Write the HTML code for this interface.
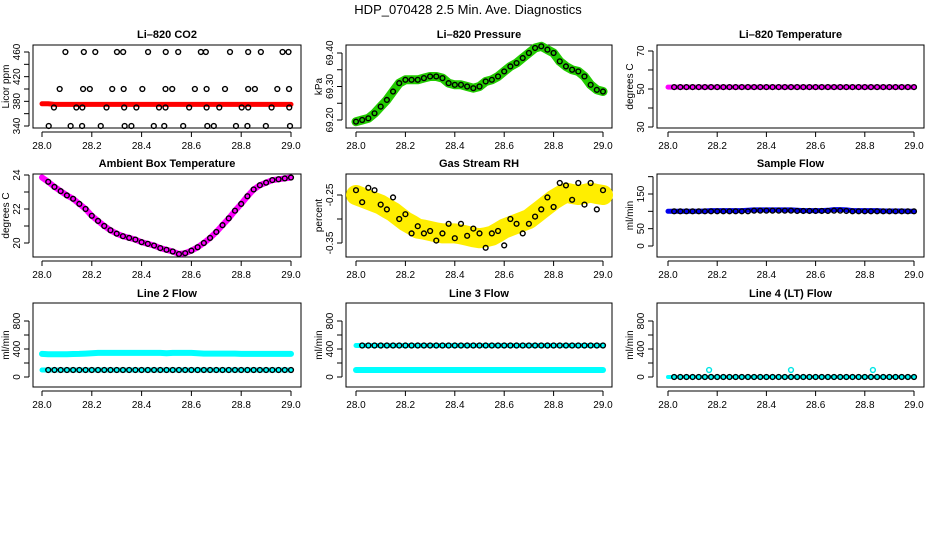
<!DOCTYPE html>
<html><head><meta charset="utf-8">
<style>
html,body{margin:0;padding:0;background:#fff;}
svg{display:block;font-family:"Liberation Sans",sans-serif;}
</style></head>
<body>
<svg id="chart" width="936" height="540" viewBox="0 0 936 540" xmlns="http://www.w3.org/2000/svg">
<rect width="936" height="540" fill="#fff"/>
<text x="468" y="14" font-size="13" text-anchor="middle">HDP_070428  2.5 Min. Ave. Diagnostics</text>
</svg>
<script>
const T = [28.00,28.025,28.05,28.075,28.10,28.125,28.15,28.175,28.20,28.225,28.25,28.275,28.30,28.325,28.35,28.375,28.40,28.425,28.45,28.475,28.50,28.525,28.55,28.575,28.60,28.625,28.65,28.675,28.70,28.725,28.75,28.775,28.80,28.825,28.85,28.875,28.90,28.925,28.95,28.975,29.00];
const xTicks = [28.0,28.2,28.4,28.6,28.8,29.0];
const xTickLabels = ["28.0","28.2","28.4","28.6","28.8","29.0"];

const co2Band = [376,376,375,375,375,375,375,375,375,375,375,375,375,375,375,375,375,375,375,375,375,375,375,375,375,375,375,375,375,375,375,375,375,375,375,375,375,375,375,375,375];
const co2X460 = [28.094,28.168,28.214,28.301,28.326,28.426,28.497,28.547,28.638,28.658,28.755,28.828,28.879,28.966,28.990];
const co2X400 = [28.071,28.165,28.192,28.282,28.328,28.403,28.496,28.523,28.614,28.661,28.735,28.828,28.855,28.945,28.992];
const co2X370 = [28.048,28.138,28.162,28.259,28.330,28.379,28.470,28.496,28.591,28.661,28.712,28.802,28.828,28.922,28.993];
const co2X340 = [28.027,28.115,28.161,28.236,28.332,28.359,28.449,28.491,28.567,28.664,28.690,28.779,28.825,28.899,28.996];

const pressure = [69.195,69.20,69.205,69.22,69.24,69.26,69.285,69.31,69.32,69.32,69.32,69.325,69.33,69.33,69.325,69.31,69.305,69.305,69.30,69.295,69.30,69.315,69.32,69.33,69.345,69.36,69.37,69.385,69.40,69.415,69.42,69.41,69.40,69.375,69.36,69.35,69.345,69.33,69.305,69.29,69.285];
const liTemp = [51,51,51,51,51,51,51,51,51,51,51,51,51,51,51,51,51,51,51,51,51,51,51,51,51,51,51,51,51,51,51,51,51,51,51,51,51,51,51,51,51];
const ambient = [23.85,23.6,23.3,23.05,22.8,22.6,22.3,22.0,21.6,21.3,21.0,20.75,20.55,20.4,20.3,20.2,20.05,19.95,19.85,19.7,19.6,19.5,19.35,19.4,19.55,19.75,20.0,20.3,20.65,21.05,21.45,21.9,22.3,22.75,23.15,23.4,23.55,23.7,23.75,23.8,23.85];
const rhBand = [-0.25,-0.255,-0.26,-0.265,-0.27,-0.278,-0.285,-0.295,-0.305,-0.312,-0.32,-0.322,-0.325,-0.328,-0.33,-0.33,-0.33,-0.332,-0.335,-0.338,-0.34,-0.338,-0.335,-0.328,-0.32,-0.315,-0.31,-0.305,-0.30,-0.29,-0.28,-0.27,-0.26,-0.252,-0.245,-0.248,-0.25,-0.248,-0.245,-0.248,-0.25];
const rhBlack = [-0.24,-0.265,-0.235,-0.24,-0.27,-0.28,-0.255,-0.30,-0.29,-0.33,-0.315,-0.33,-0.325,-0.345,-0.33,-0.31,-0.34,-0.31,-0.335,-0.32,-0.33,-0.36,-0.33,-0.325,-0.355,-0.30,-0.31,-0.33,-0.31,-0.295,-0.28,-0.255,-0.275,-0.225,-0.23,-0.26,-0.225,-0.27,-0.225,-0.28,-0.24];
const sampleBand = [100,100,100,100,100,100,101,102,102,102,102,102,102,103,104,104,104,104,104,104,104,103,102,102,102,102,103,105,105,104,102,102,102,102,102,101,101,101,101,100,100];
const sampleBlack = [100,100,100,100,100,100,100,100,100,100,100,100,100,100,102,102,102,102,102,102,102,101,101,101,101,101,101,102,102,101,100,100,100,100,100,100,100,100,100,100,100];
const line2High = [330,325,325,325,325,328,330,335,340,345,345,345,345,345,345,345,345,345,345,345,340,345,345,345,345,340,335,335,335,335,335,335,330,330,330,330,330,330,330,330,330];
const line2Low = [100,100,100,100,100,100,100,100,100,100,100,100,100,100,100,100,100,100,100,100,100,100,100,100,100,100,100,100,100,100,100,100,100,100,100,100,100,100,100,100,100];
const line3High = [450,450,450,450,450,450,450,450,450,450,450,450,450,450,450,450,450,450,450,450,450,450,450,450,450,450,450,450,450,450,450,450,450,450,450,450,450,450,450,450,450];
const line3Low = [100,100,100,100,100,100,100,100,100,100,100,100,100,100,100,100,100,100,100,100,100,100,100,100,100,100,100,100,100,100,100,100,100,100,100,100,100,100,100,100,100];
const line4 = [0,0,0,0,0,0,0,0,0,0,0,0,0,0,0,0,0,0,0,0,0,0,0,0,0,0,0,0,0,0,0,0,0,0,0,0,0,0,0,0,0];
const line4SpikeX = [28.167,28.5,28.833];
const line4SpikeY = [100,100,100];

const NS = "http://www.w3.org/2000/svg";
const svg = document.getElementById('chart');
const COLS = [{l:33,r:301,x0:42,x1:291},{l:346,r:612,x0:356,x1:603},{l:657,r:924,x0:668,x1:914}];
const ROWS = [{t:45,b:128,title:38},{t:174,b:257,title:167},{t:303,b:387,title:297}];

function mk(tag, attrs, parent){const e=document.createElementNS(NS,tag);for(const k in attrs)e.setAttribute(k,attrs[k]);(parent||svg).appendChild(e);return e;}

function panel(name,title,ci,ri,yA,yB,yTicks,yLabels,yTitle){
  const c=COLS[ci], r=ROWS[ri];
  const g=mk('g',{});
  
  
  const xs=v=>c.x0+(v-28)*(c.x1-c.x0);
  const ys=v=>yA[1]+(v-yA[0])*(yB[1]-yA[1])/(yB[0]-yA[0]);
  const tt=mk('text',{x:(c.l+c.r)/2,y:r.title,'font-size':11,'font-weight':'bold','text-anchor':'middle'},g);
  tt.textContent=title;
  
  
  const box=mk('rect',{x:c.l,y:r.t,width:c.r-c.l,height:r.b-r.t,fill:'none',stroke:'#000','stroke-width':1},g);
  
  
  const xa=mk('g',{},g);
  
  
  mk('line',{x1:xs(xTicks[0]),x2:xs(xTicks[xTicks.length-1]),y1:r.b+4,y2:r.b+4,stroke:'#000'},xa);
  xTicks.forEach((v,i)=>{
    mk('line',{x1:xs(v),x2:xs(v),y1:r.b+4,y2:r.b+9,stroke:'#000'},xa);
    const t=mk('text',{x:xs(v),y:r.b+21,'font-size':10,'text-anchor':'middle'},xa);
    t.textContent=xTickLabels[i];
  });
  const ya=mk('g',{},g);
  
  
  const ax=c.l-4;
  mk('line',{x1:ax,x2:ax,y1:ys(yTicks[0]),y2:ys(yTicks[yTicks.length-1]),stroke:'#000'},ya);
  yTicks.forEach((v,i)=>{
    mk('line',{x1:ax-5,x2:ax,y1:ys(v),y2:ys(v),stroke:'#000'},ya);
    if(yLabels[i]){
      const t=mk('text',{x:0,y:0,'font-size':10,'text-anchor':'middle',transform:`translate(${ax-9},${ys(v)}) rotate(-90)`},ya);
      t.textContent=yLabels[i];
    }
  });
  const yt=mk('text',{x:0,y:0,'font-size':10,'text-anchor':'middle',transform:`translate(${c.l-24},${(r.t+r.b)/2}) rotate(-90)`},g);
  yt.textContent=yTitle;
  
  
  return {g,xs,ys};
}
function band(p,name,xsArr,vals,color,w){
  const pts=xsArr.map((x,i)=>p.xs(x).toFixed(1)+','+p.ys(vals[i]).toFixed(1)).join(' ');
  const pl=mk('polyline',{points:pts,fill:'none',stroke:color,'stroke-width':w,'stroke-linejoin':'round','stroke-linecap':'round'},p.g);
  
  
}
function pts(p,name,xsArr,vals,color){
  const g=mk('g',{},p.g);
  
  
  xsArr.forEach((x,i)=>{
    const c=mk('circle',{cx:p.xs(x),cy:p.ys(vals[i]),r:2.4,fill:'none',stroke:color,'stroke-width':1.4},g);
    
    
  });
}
function constVals(arr,v){return arr.map(()=>v);}

let p=panel('co2','Li\u2013820 CO2',0,0,[460,52],[340,126],[340,360,380,400,420,440,460],['340','','380','','420','','460'],'Licor ppm');
band(p,'co2-band',T,co2Band,'#f00',5);
pts(p,'co2-points-460',co2X460,constVals(co2X460,460),'#000');
pts(p,'co2-points-400',co2X400,constVals(co2X400,400),'#000');
pts(p,'co2-points-370',co2X370,constVals(co2X370,370),'#000');
pts(p,'co2-points-340',co2X340,constVals(co2X340,340),'#000');

p=panel('pressure','Li\u2013820 Pressure',1,0,[69.40,53],[69.20,120],[69.20,69.25,69.30,69.35,69.40],['69.20','','69.30','','69.40'],'kPa');
band(p,'pressure-band',T,pressure,'#22cc00',9);
pts(p,'pressure-points',T,pressure,'#000');

p=panel('li-temp','Li\u2013820 Temperature',2,0,[70,51],[30,127],[30,40,50,60,70],['30','','50','','70'],'degrees C');
band(p,'li-temp-band',T,liTemp,'#f0f',5);
pts(p,'li-temp-points',T.slice(1),liTemp.slice(1),'#000');

p=panel('ambient','Ambient Box Temperature',0,1,[24,175],[20,243],[20,21,22,23,24],['20','','22','','24'],'degrees C');
band(p,'ambient-band',T,ambient,'#f0f',6);
pts(p,'ambient-points',T.slice(1),ambient.slice(1),'#000');

p=panel('rh','Gas Stream RH',1,1,[-0.25,195],[-0.35,243],[-0.35,-0.30,-0.25],['-0.35','','-0.25'],'percent');
band(p,'rh-band',T,rhBand,'#ffee00',20);
pts(p,'rh-points',T,rhBlack,'#000');

p=panel('sample-flow','Sample Flow',2,1,[150,194],[0,246],[0,50,100,150,200],['0','50','','150',''],'ml/min');
band(p,'sample-flow-band',T,sampleBand,'#0000ee',5);
pts(p,'sample-flow-points',T.slice(1),sampleBlack.slice(1),'#000');

p=panel('line2','Line 2 Flow',0,2,[800,321],[0,377],[0,200,400,600,800],['0','','400','','800'],'ml/min');
band(p,'line2-high-band',T,line2High,'#00ffff',6);
band(p,'line2-low-band',T,line2Low,'#00ffff',5);
pts(p,'line2-points',T.slice(1),line2Low.slice(1),'#000');

p=panel('line3','Line 3 Flow',1,2,[800,321],[0,377],[0,200,400,600,800],['0','','400','','800'],'ml/min');
band(p,'line3-low-band',T,line3Low,'#00ffff',6);
band(p,'line3-high-band',T,line3High,'#00ffff',5);
pts(p,'line3-points',T.slice(1),line3High.slice(1),'#000');

p=panel('line4','Line 4 (LT) Flow',2,2,[800,321],[0,377],[0,200,400,600,800],['0','','400','','800'],'ml/min');
band(p,'line4-band',T,line4,'#00ffff',4);
pts(p,'line4-points',T.slice(1),line4.slice(1),'#000');
pts(p,'line4-spikes',line4SpikeX,line4SpikeY,'#00e5e5');
</script>
</body></html>
